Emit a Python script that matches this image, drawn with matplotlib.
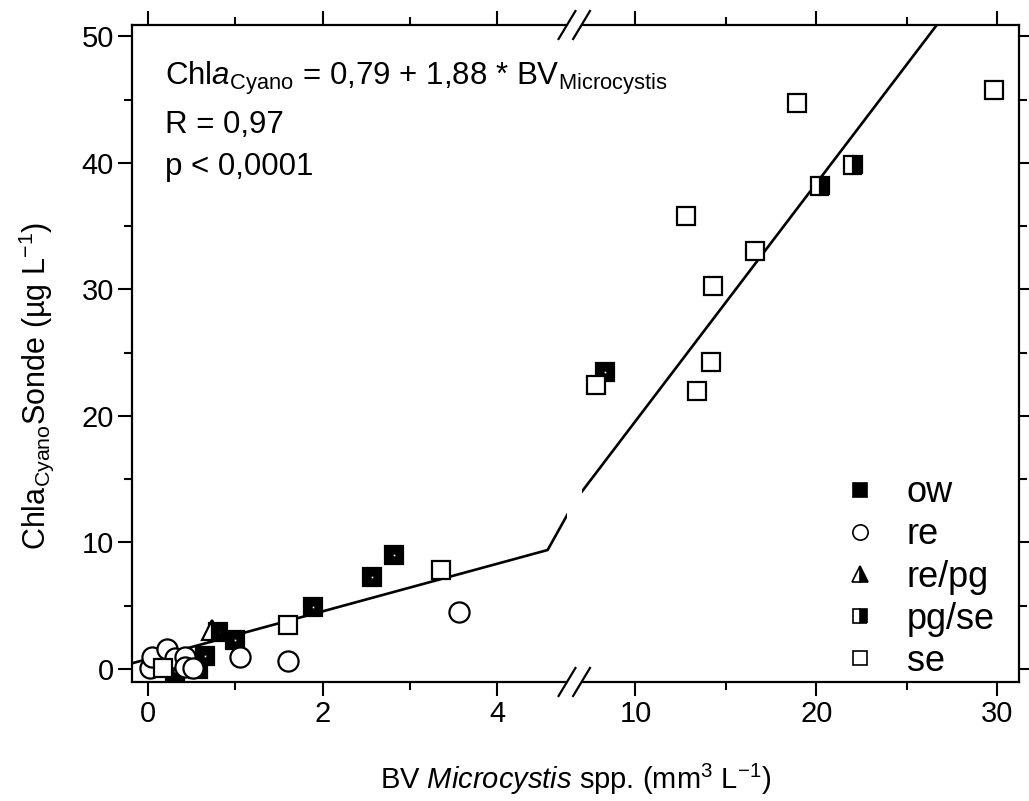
import numpy as np
import matplotlib
matplotlib.use('Agg')
import matplotlib.pyplot as plt
from matplotlib.lines import Line2D
from matplotlib.patches import Rectangle

plt.rcParams['font.family'] = ['Liberation Sans', 'DejaVu Sans']
plt.rcParams['mathtext.fontset'] = 'custom'
plt.rcParams['mathtext.rm'] = 'Liberation Sans'
plt.rcParams['mathtext.it'] = 'Liberation Sans:italic'
plt.rcParams['mathtext.bf'] = 'Liberation Sans:bold'

# data (x = BV Microcystis, y = Chla Cyano sonde)
ow_x = [0.31, 0.57, 0.65, 0.80, 1.00, 1.89, 2.57, 2.82, 8.34]
ow_y = [-0.2, 0.0, 1.0, 2.9, 2.3, 4.9, 7.3, 9.0, 23.5]
re_x = [0.02, 0.05, 0.22, 0.31, 0.42, 0.42, 0.52, 1.05, 1.60, 3.56]
re_y = [0.1, 0.95, 1.6, 0.85, 0.95, 0.15, 0.1, 0.95, 0.6, 4.5]
repg_x = [0.73]
repg_y = [3.1]
pgse_x = [20.2, 22.0]
pgse_y = [38.2, 39.8]
se_x = [0.17, 1.60, 3.36, 7.79, 13.4, 14.2, 14.3, 16.6, 12.8, 18.95, 29.8]
se_y = [0.1, 3.5, 7.8, 22.45, 22.0, 24.3, 30.3, 33.0, 35.8, 44.7, 45.8]

intercept, slope = 0.79, 1.88

# broken x axis: 0..4.58 wide, short gap, 6.69..31 compressed
BRK_L, BRK_R = 4.58, 6.69
SL, SG, SR = 87.3, 28 / 2.11, 18.1
U_L = SL * BRK_L
U_R = U_L + SG * (BRK_R - BRK_L)


def fwd(x):
    x = np.asarray(x, dtype=float)
    return np.where(x <= BRK_L, SL * x,
                    np.where(x <= BRK_R, U_L + SG * (x - BRK_L),
                             U_R + SR * (x - BRK_R)))


def inv(u):
    u = np.asarray(u, dtype=float)
    return np.where(u <= U_L, u / SL,
                    np.where(u <= U_R, BRK_L + (u - U_L) / SG,
                             BRK_R + (u - U_R) / SR))


xmin, xmax = -0.183, 31.2

fig = plt.figure(figsize=(10.29, 8.01), dpi=100)
ax = fig.add_axes([0.1283, 0.1486, 0.862, 0.8202])
ax.set_xscale('function', functions=(fwd, inv))
ax.set_xlim(xmin, xmax)
ax.set_ylim(-1.03, 50.9)

# regression line
fit_x = np.array([xmin, BRK_L, BRK_R, xmax])
ax.plot(fit_x, intercept + slope * fit_x, color='black', lw=1.9, zorder=2)

ms = 13.5
mew = 1.6
ax.plot(ow_x, ow_y, ls='none', marker='s', ms=ms, mfc='black', mec='black', mew=mew, zorder=3)
ax.plot(ow_x, ow_y, ls='none', marker='s', ms=1.2, mfc='white', mec='none', zorder=3)
ax.plot(re_x, re_y, ls='none', marker='o', ms=ms + 1, mfc='white', mec='black', mew=mew, zorder=4)
ax.plot(repg_x, repg_y, ls='none', marker='^', ms=ms + 1, fillstyle='right',
        mfc='black', mfcalt='white', mec='black', mew=mew, zorder=5)
ax.plot(pgse_x, pgse_y, ls='none', marker='s', ms=ms, fillstyle='right',
        mfc='black', mfcalt='white', mec='black', mew=mew, zorder=5)
ax.plot(se_x, se_y, ls='none', marker='s', ms=ms, mfc='white', mec='black', mew=mew, zorder=5)

# ticks
ax.set_xticks([0, 2, 4, 10, 20, 30])
ax.set_xticklabels(['0', '2', '4', '10', '20', '30'])
ax.set_xticks([1, 3, 15, 25], minor=True)
ax.set_yticks([0, 10, 20, 30, 40, 50])
ax.set_yticks([5, 15, 25, 35, 45], minor=True)
ax.tick_params(which='both', direction='out', top=True, right=True, width=1.5,
               labelsize=21, pad=3)
ax.tick_params(which='major', length=10)
ax.tick_params(which='minor', length=5.5)
for s in ax.spines.values():
    s.set_linewidth(1.6)

# break marks
b1, b2 = 0.4904, 0.5068
ax.add_patch(Rectangle((b1, -0.03), b2 - b1, 1.06, transform=ax.transAxes,
                       facecolor='white', edgecolor='none', clip_on=False, zorder=6))
for yb in (0.0, 1.0):
    for xb in (b1, b2):
        ax.plot([xb - 0.0095, xb + 0.0095], [yb - 0.0213, yb + 0.0213], color='black',
                lw=1.6, transform=ax.transAxes, clip_on=False, zorder=7)

ax.set_xlabel(r'BV $\it{Microcystis}$ spp. (mm$^{3}$ L$^{-1}$)', fontsize=21, labelpad=24)
ax.set_ylabel(r'Chla$_{\mathregular{Cyano}}$Sonde (µg L$^{-1}$)', fontsize=22)
ax.yaxis.set_label_coords(-0.086, 0.45)

ax.text(0.0372, 0.9087,
        r'Chl$\it{a}$$_{\mathregular{Cyano}}$ = 0,79 + 1,88 * BV$_{\mathregular{Microcystis}}$',
        transform=ax.transAxes, fontsize=22.5, va='baseline', zorder=8)
ax.text(0.0372, 0.8356, 'R = 0,97', transform=ax.transAxes, fontsize=22.5, va='baseline')
ax.text(0.0372, 0.7717, 'p < 0,0001', transform=ax.transAxes, fontsize=22.5, va='baseline')

handles = [
    Line2D([], [], ls='none', marker='s', ms=10, mfc='black', mec='black', mew=1.2),
    Line2D([], [], ls='none', marker='o', ms=11, mfc='white', mec='black', mew=1.2),
    Line2D([], [], ls='none', marker='^', ms=11, fillstyle='right', mfc='black',
           mfcalt='white', mec='black', mew=1.2),
    Line2D([], [], ls='none', marker='s', ms=10, fillstyle='right', mfc='black',
           mfcalt='white', mec='black', mew=1.2),
    Line2D([], [], ls='none', marker='s', ms=10, mfc='white', mec='black', mew=1.2),
]
ax.legend(handles, ['ow', 're', 're/pg', 'pg/se', 'se'], loc='lower right',
          bbox_to_anchor=(1.009, -0.045), frameon=False, fontsize=26, handlelength=1,
          handletextpad=0.8, labelspacing=0.2)

fig.savefig('out.png', dpi=100)
